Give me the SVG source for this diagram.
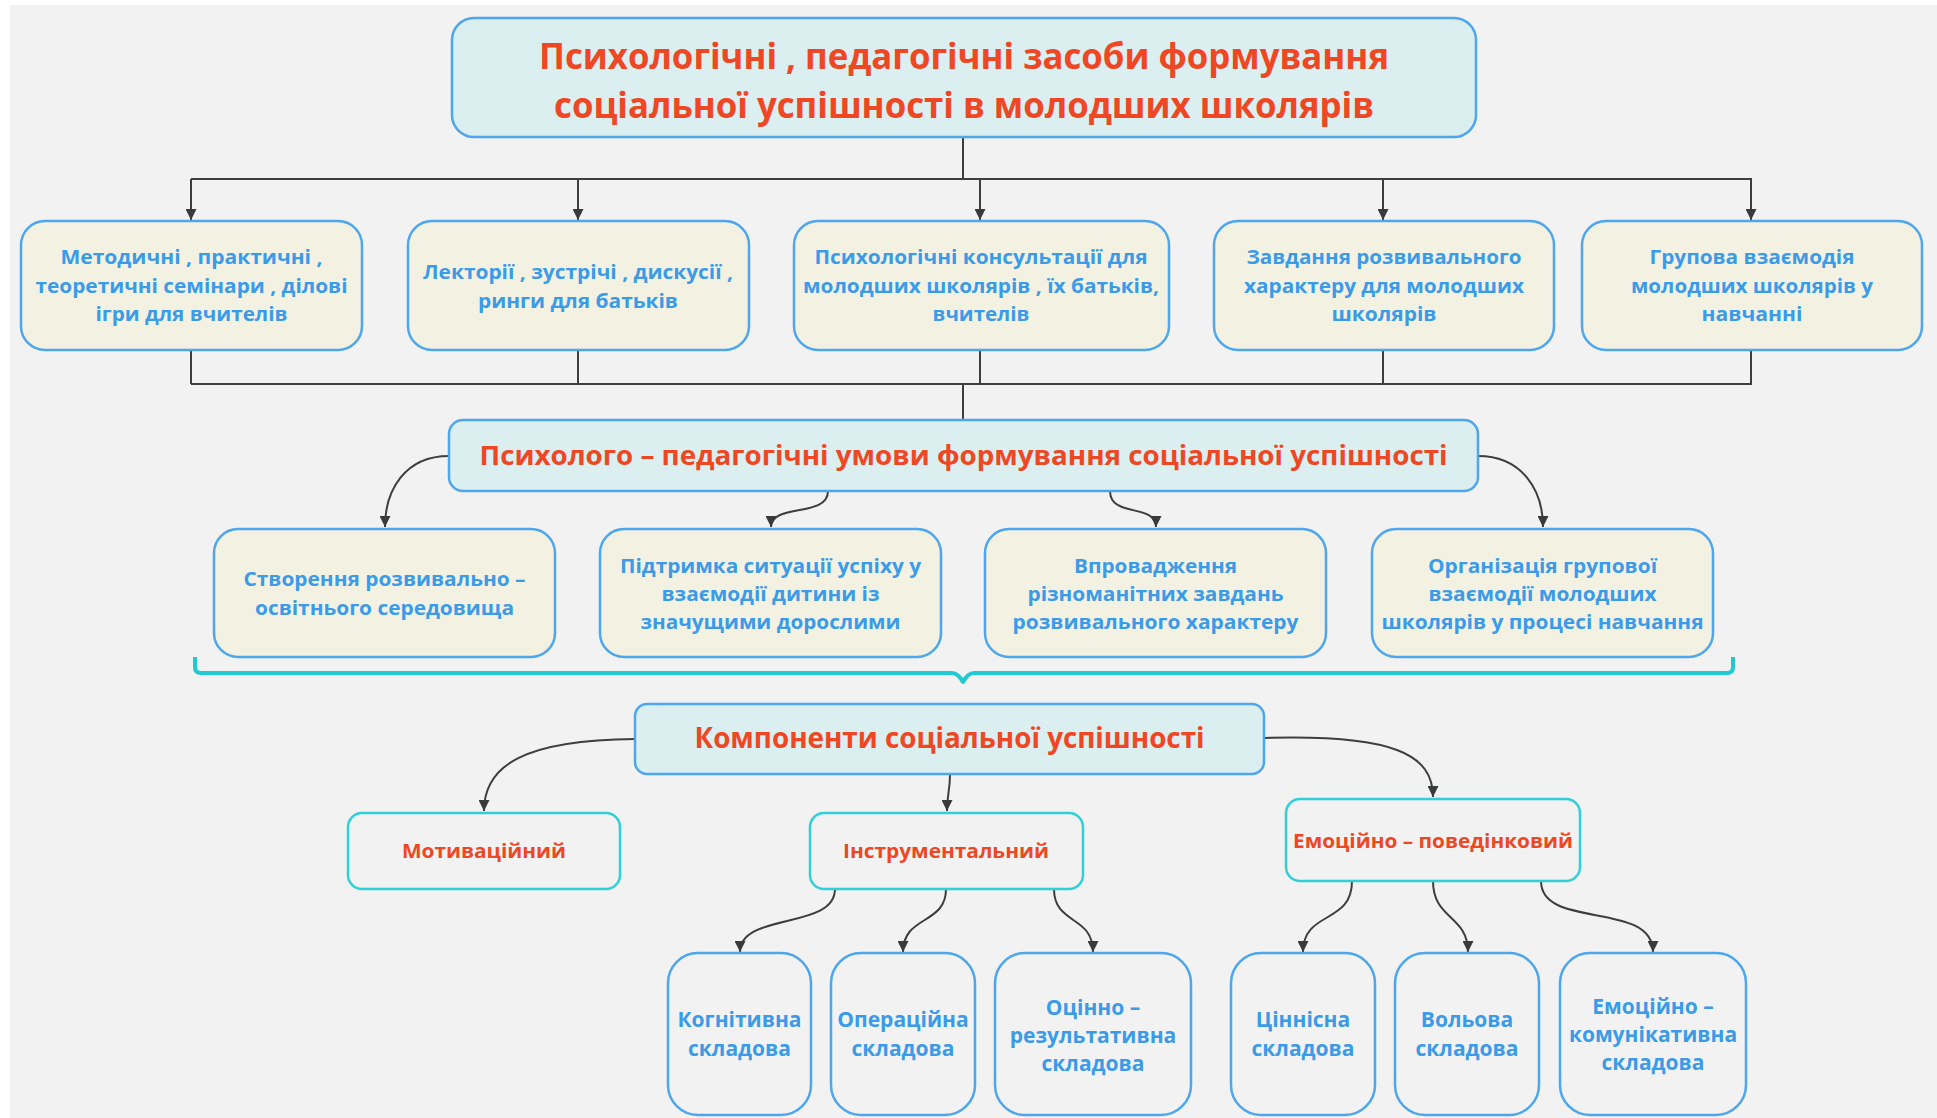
<svg xmlns="http://www.w3.org/2000/svg" width="1937" height="1118" viewBox="0 0 1937 1118">
<defs>
<marker id="arr" viewBox="0 0 10 10" refX="10" refY="5" markerWidth="11" markerHeight="11" markerUnits="userSpaceOnUse" orient="auto">
<path d="M0,0 L10,5 L0,10 z" fill="#3a3a3a"/>
</marker>
<style>
.main{fill:#dbeef0;stroke:#4ea6ee;stroke-width:2.5}
.item{fill:#f3f1e2;stroke:#4ea6ee;stroke-width:2.5}
.comp{fill:#f2f2f2;stroke:#2fd0d8;stroke-width:2.5}
.sub{fill:#f2f2f2;stroke:#4ea6ee;stroke-width:2.5}
text{font-family:"Open Sans","Noto Sans","DejaVu Sans",sans-serif;font-weight:bold;text-anchor:middle}
.red{fill:#ef4723}
.blue{fill:#3a9be9}
.t20{font-size:20px}
.t21{font-size:21px}
.line{fill:none;stroke:#3e3e3e;stroke-width:2}
.curve{fill:none;stroke:#3e3e3e;stroke-width:2;marker-end:url(#arr)}
.brace{fill:none;stroke:#1fcad2;stroke-width:4;stroke-linejoin:round}
</style>
</defs>
<rect x="0" y="0" width="1937" height="1118" fill="#ffffff"/>
<rect x="10" y="5" width="1927" height="1113" fill="#f2f2f2"/>

<g id="connectors">
<path class="line" d="M963 137 V179 M191 179 H1752"/>
<path class="curve" d="M191 179 V220"/>
<path class="curve" d="M578 179 V220"/>
<path class="curve" d="M980 179 V220"/>
<path class="curve" d="M1383 179 V220"/>
<path class="curve" d="M1751 179 V220"/>
<path class="line" d="M191 350 V384 M578 350 V384 M980 350 V384 M1383 350 V384 M1751 350 V384 M191 384 H1752 M963 384 V420"/>
<path class="curve" d="M449 456 C405 456 385 490 385 527"/>
<path class="curve" d="M828 491 C828 518 771 503 771 527"/>
<path class="curve" d="M1110 491 C1110 518 1156 503 1156 527"/>
<path class="curve" d="M1478 456 C1522 456 1543 490 1543 527"/>
<path class="brace" d="M195 657 V667 Q195 673 201 673 H952 Q958 673 963 682 Q968 673 974 673 H1727 Q1733 673 1733 667 V657"/>
<path class="curve" d="M635 739 C525 740 484 765 484 811"/>
<path class="curve" d="M950 775 C950 790 947 795 947 811"/>
<path class="curve" d="M1264 738 C1395 734 1433 755 1433 797"/>
<path class="curve" d="M835 889 C835 930 740 912 740 952"/>
<path class="curve" d="M946 889 C946 925 903 915 903 952"/>
<path class="curve" d="M1054 889 C1054 925 1093 915 1093 952"/>
<path class="curve" d="M1352 881 C1352 925 1303 910 1303 952"/>
<path class="curve" d="M1433 881 C1433 920 1468 915 1468 952"/>
<path class="curve" d="M1541 881 C1541 930 1653 900 1653 952"/>
</g>

<g id="title">
<rect class="main" x="452" y="18" width="1024" height="119" rx="22"/>
<text class="red" x="964" y="69" font-size="35" textLength="850" lengthAdjust="spacingAndGlyphs">Психологічні , педагогічні засоби формування</text>
<text class="red" x="964" y="118" font-size="35" textLength="820" lengthAdjust="spacingAndGlyphs">соціальної успішності в молодших школярів</text>
</g>

<g id="n1">
<rect class="item" x="21" y="221" width="341" height="129" rx="24"/>
<text class="blue t20" x="191.5" y="264" textLength="262" lengthAdjust="spacingAndGlyphs">Методичні , практичні ,</text>
<text class="blue t20" x="191.5" y="293" textLength="312" lengthAdjust="spacingAndGlyphs">теоретичні семінари , ділові</text>
<text class="blue t20" x="191.5" y="321" textLength="192" lengthAdjust="spacingAndGlyphs">ігри для вчителів</text>
</g>
<g id="n2">
<rect class="item" x="408" y="221" width="341" height="129" rx="24"/>
<text class="blue t20" x="578" y="279" textLength="310" lengthAdjust="spacingAndGlyphs">Лекторії , зустрічі , дискусії ,</text>
<text class="blue t20" x="578" y="308" textLength="200" lengthAdjust="spacingAndGlyphs">ринги для батьків</text>
</g>
<g id="n3">
<rect class="item" x="794" y="221" width="375" height="129" rx="24"/>
<text class="blue t20" x="981" y="264" textLength="333" lengthAdjust="spacingAndGlyphs">Психологічні консультації для</text>
<text class="blue t20" x="981" y="293" textLength="356" lengthAdjust="spacingAndGlyphs">молодших школярів , їх батьків,</text>
<text class="blue t20" x="981" y="321" textLength="97" lengthAdjust="spacingAndGlyphs">вчителів</text>
</g>
<g id="n4">
<rect class="item" x="1214" y="221" width="340" height="129" rx="24"/>
<text class="blue t20" x="1384" y="264" textLength="275" lengthAdjust="spacingAndGlyphs">Завдання розвивального</text>
<text class="blue t20" x="1384" y="293" textLength="280" lengthAdjust="spacingAndGlyphs">характеру для молодших</text>
<text class="blue t20" x="1384" y="321" textLength="105" lengthAdjust="spacingAndGlyphs">школярів</text>
</g>
<g id="n5">
<rect class="item" x="1582" y="221" width="340" height="129" rx="24"/>
<text class="blue t20" x="1752" y="264" textLength="205" lengthAdjust="spacingAndGlyphs">Групова взаємодія</text>
<text class="blue t20" x="1752" y="293" textLength="242" lengthAdjust="spacingAndGlyphs">молодших школярів у</text>
<text class="blue t20" x="1752" y="321" textLength="101" lengthAdjust="spacingAndGlyphs">навчанні</text>
</g>

<g id="conditions">
<rect class="main" x="449" y="420" width="1029" height="71" rx="14"/>
<text class="red" x="963.5" y="465" font-size="27" textLength="968" lengthAdjust="spacingAndGlyphs">Психолого – педагогічні умови формування соціальної успішності</text>
</g>

<g id="c1">
<rect class="item" x="214" y="529" width="341" height="128" rx="24"/>
<text class="blue t20" x="384.5" y="586" textLength="282" lengthAdjust="spacingAndGlyphs">Створення розвивально –</text>
<text class="blue t20" x="384.5" y="615" textLength="259" lengthAdjust="spacingAndGlyphs">освітнього середовища</text>
</g>
<g id="c2">
<rect class="item" x="600" y="529" width="341" height="128" rx="24"/>
<text class="blue t20" x="770.5" y="573" textLength="301" lengthAdjust="spacingAndGlyphs">Підтримка ситуації успіху у</text>
<text class="blue t20" x="770.5" y="601" textLength="218" lengthAdjust="spacingAndGlyphs">взаємодії дитини із</text>
<text class="blue t20" x="770.5" y="629" textLength="260" lengthAdjust="spacingAndGlyphs">значущими дорослими</text>
</g>
<g id="c3">
<rect class="item" x="985" y="529" width="341" height="128" rx="24"/>
<text class="blue t20" x="1155.5" y="573" textLength="163" lengthAdjust="spacingAndGlyphs">Впровадження</text>
<text class="blue t20" x="1155.5" y="601" textLength="256" lengthAdjust="spacingAndGlyphs">різноманітних завдань</text>
<text class="blue t20" x="1155.5" y="629" textLength="286" lengthAdjust="spacingAndGlyphs">розвивального характеру</text>
</g>
<g id="c4">
<rect class="item" x="1372" y="529" width="341" height="128" rx="24"/>
<text class="blue t20" x="1542.5" y="573" textLength="229" lengthAdjust="spacingAndGlyphs">Організація групової</text>
<text class="blue t20" x="1542.5" y="601" textLength="228" lengthAdjust="spacingAndGlyphs">взаємодії молодших</text>
<text class="blue t20" x="1542.5" y="629" textLength="322" lengthAdjust="spacingAndGlyphs">школярів у процесі навчання</text>
</g>

<g id="components">
<rect class="main" x="635" y="704" width="629" height="70" rx="12"/>
<text class="red" x="949.5" y="748" font-size="28" textLength="510" lengthAdjust="spacingAndGlyphs">Компоненти соціальної успішності</text>
</g>

<g id="k1">
<rect class="comp" x="348" y="813" width="272" height="76" rx="14"/>
<text class="red t20" x="484" y="858" textLength="164" lengthAdjust="spacingAndGlyphs">Мотиваційний</text>
</g>
<g id="k2">
<rect class="comp" x="810" y="813" width="273" height="76" rx="14"/>
<text class="red t20" x="946" y="858" textLength="206" lengthAdjust="spacingAndGlyphs">Інструментальний</text>
</g>
<g id="k3">
<rect class="comp" x="1286" y="799" width="294" height="82" rx="14"/>
<text class="red t20" x="1433" y="848" textLength="280" lengthAdjust="spacingAndGlyphs">Емоційно – поведінковий</text>
</g>

<g id="s1">
<rect class="sub" x="668" y="953" width="143" height="162" rx="30"/>
<text class="blue t21" x="739.5" y="1027">Когнітивна</text>
<text class="blue t21" x="739.5" y="1056">складова</text>
</g>
<g id="s2">
<rect class="sub" x="831" y="953" width="144" height="162" rx="30"/>
<text class="blue t21" x="903" y="1027">Операційна</text>
<text class="blue t21" x="903" y="1056">складова</text>
</g>
<g id="s3">
<rect class="sub" x="995" y="953" width="196" height="162" rx="30"/>
<text class="blue t21" x="1093" y="1015">Оцінно –</text>
<text class="blue t21" x="1093" y="1043">результативна</text>
<text class="blue t21" x="1093" y="1071">складова</text>
</g>
<g id="s4">
<rect class="sub" x="1231" y="953" width="144" height="162" rx="30"/>
<text class="blue t21" x="1303" y="1027">Ціннісна</text>
<text class="blue t21" x="1303" y="1056">складова</text>
</g>
<g id="s5">
<rect class="sub" x="1395" y="953" width="144" height="162" rx="30"/>
<text class="blue t21" x="1467" y="1027">Вольова</text>
<text class="blue t21" x="1467" y="1056">складова</text>
</g>
<g id="s6">
<rect class="sub" x="1560" y="953" width="186" height="162" rx="30"/>
<text class="blue t21" x="1653" y="1014">Емоційно –</text>
<text class="blue t21" x="1653" y="1042">комунікативна</text>
<text class="blue t21" x="1653" y="1070">складова</text>
</g>
</svg>
